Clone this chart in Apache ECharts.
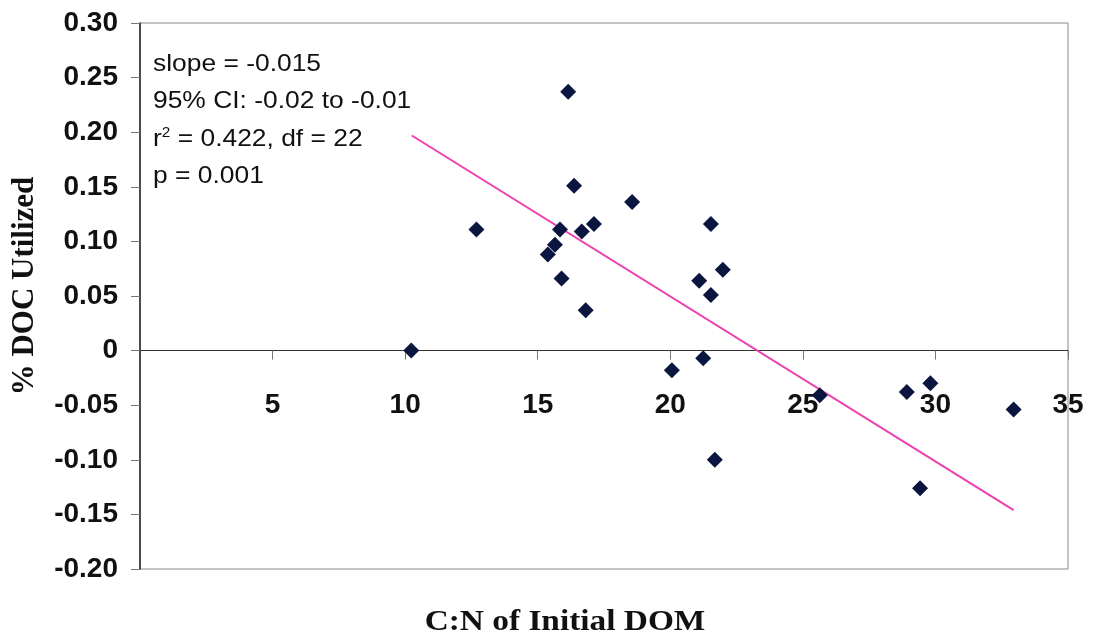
<!DOCTYPE html>
<html>
<head>
<meta charset="utf-8">
<script src="https://cdn.jsdelivr.net/npm/echarts@6/dist/echarts.min.js"></script>
<style>
  html, body { margin: 0; padding: 0; background: #fff; }
  #chart { width: 1094px; height: 641px; }
</style>
</head>
<body>
<div id="chart"></div>
<script>
// C:N ratio of initial DOM vs % DOC utilized
var cnRatio = [16.15, 16.37, 18.56, 12.69, 15.84, 16.66, 17.12, 21.53, 15.65, 15.38, 15.90, 16.81,
               21.98, 21.09, 21.53, 10.23, 20.06, 21.24, 21.68, 25.64, 28.92, 29.81, 32.95, 29.42];
var docUtilized = [0.237, 0.151, 0.136, 0.111, 0.111, 0.109, 0.116, 0.116, 0.097, 0.088, 0.066, 0.037,
                   0.074, 0.064, 0.051, 0.000, -0.018, -0.007, -0.100, -0.041, -0.038, -0.030, -0.054, -0.126];
// regression line end points
var fitX = [10.25, 32.95];
var fitY = [0.197, -0.146];
var statLines = ['slope = -0.015', '95% CI: -0.02 to -0.01', 'r{sup|2} = 0.422, df = 22', 'p = 0.001'];

var points = [];
for (var i = 0; i < cnRatio.length; i++) {
    points.push([cnRatio[i], docUtilized[i]]);
}
var fitLine = [];
for (var j = 0; j < fitX.length; j++) {
    fitLine.push([fitX[j], fitY[j]]);
}

var statY = [64, 101, 139, 176];
var graphics = [];
for (var k = 0; k < statLines.length; k++) {
    graphics.push({
        type: 'text',
        x: 153,
        y: statY[k],
        scaleX: 1.1,
        style: {
            text: statLines[k],
            font: '24px "Liberation Sans", Arial, sans-serif',
            fill: '#111',
            textVerticalAlign: 'middle',
            rich: {
                sup: { fontSize: 14, fontFamily: 'Liberation Sans', verticalAlign: 'top', padding: [0, 0, 12, 0] }
            }
        }
    });
}
graphics.push({
    type: 'text',
    x: 565,
    y: 623,
    scaleX: 1.15,
    style: {
        text: 'C:N of Initial DOM',
        font: 'bold 29px "Liberation Serif", "Times New Roman", serif',
        fill: '#111',
        textAlign: 'center',
        textVerticalAlign: 'middle'
    }
});
graphics.push({
    type: 'text',
    x: 25,
    y: 286,
    rotation: Math.PI / 2,
    style: {
        text: '% DOC Utilized',
        font: 'bold 31px "Liberation Serif", "Times New Roman", serif',
        fill: '#111',
        textAlign: 'center',
        textVerticalAlign: 'middle'
    }
});

var myChart = echarts.init(document.getElementById('chart'));
// x axis sits on y = 0: shift it up from the grid bottom (0.2 of a 0.5 range)
var plotTop = 23, plotBottom = 72;
var plotH = 641 - plotTop - plotBottom;
var zeroOffset = -plotH * 0.2 / 0.5;

myChart.setOption({
    animation: false,
    backgroundColor: '#fff',
    grid: {
        left: 140,
        right: 26,
        top: plotTop,
        bottom: plotBottom,
        show: true,
        borderColor: '#888',
        borderWidth: 1
    },
    xAxis: {
        type: 'value',
        min: 0,
        max: 35,
        interval: 5,
        position: 'bottom',
        offset: zeroOffset,
        axisLine: { onZero: false, lineStyle: { color: '#333', width: 1 } },
        axisTick: { show: true, length: 9, lineStyle: { color: '#777' } },
        splitLine: { show: false },
        axisLabel: {
            showMinLabel: false,
            margin: 41,
            fontSize: 28,
            fontWeight: 'bold',
            fontFamily: 'Liberation Sans',
            color: '#111'
        }
    },
    yAxis: {
        type: 'value',
        min: -0.2,
        max: 0.3,
        interval: 0.05,
        axisLine: { show: true, onZero: false, lineStyle: { color: '#222', width: 1.5 } },
        axisTick: { show: true, length: 9, lineStyle: { color: '#777' } },
        splitLine: { show: false },
        axisLabel: {
            margin: 22,
            fontSize: 28,
            fontWeight: 'bold',
            fontFamily: 'Liberation Sans',
            color: '#111',
            formatter: function (v) {
                return Math.abs(v) < 1e-9 ? '0' : v.toFixed(2);
            }
        }
    },
    series: [
        {
            type: 'line',
            data: fitLine,
            symbol: 'none',
            lineStyle: { color: '#ee3fae', width: 2 },
            z: 2
        },
        {
            type: 'scatter',
            data: points,
            symbol: 'diamond',
            symbolSize: 16,
            itemStyle: { color: '#0a1640', opacity: 1 },
            z: 3
        }
    ],
    graphic: graphics
});
</script>
</body>
</html>
